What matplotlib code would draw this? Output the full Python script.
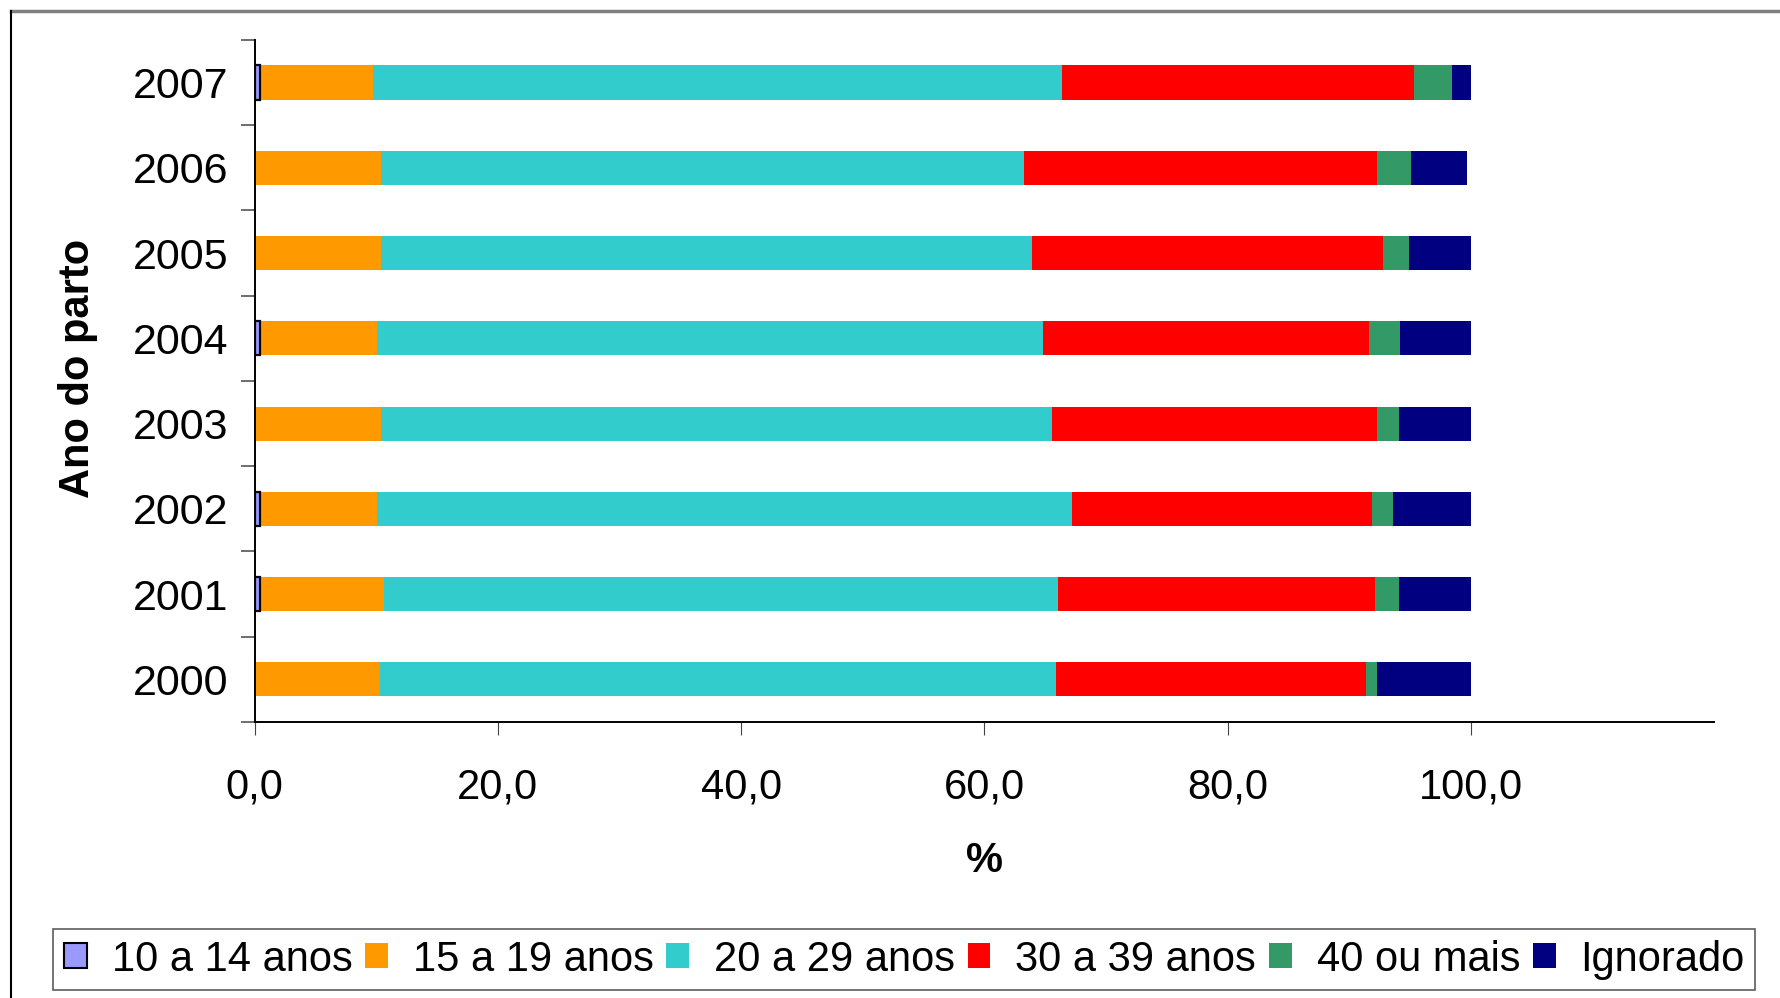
import matplotlib
matplotlib.use("Agg")
import matplotlib.pyplot as plt
import matplotlib.patches as mpatches
from matplotlib.lines import Line2D
import numpy as np

plt.rcParams['font.family'] = ['Liberation Sans', 'DejaVu Sans']

# data (% of births by mother's age group)
years = ['2000', '2001', '2002', '2003', '2004', '2005', '2006', '2007']
age_10_14 = [0.0, 0.45, 0.45, 0.0, 0.45, 0.0, 0.0, 0.45]
age_15_19 = [10.3, 10.2, 9.65, 10.4, 9.65, 10.4, 10.4, 9.3]
age_20_29 = [55.6, 55.4, 57.1, 55.2, 54.7, 53.5, 52.85, 56.6]
age_30_39 = [25.5, 26.05, 24.7, 26.7, 26.8, 28.9, 29.05, 29.0]
age_40_plus = [0.9, 2.0, 1.7, 1.8, 2.6, 2.1, 2.8, 3.1]
ignorado = [7.7, 5.9, 6.4, 5.9, 5.8, 5.1, 4.6, 1.6]

series = [
    ('10 a 14 anos', age_10_14, '#9999FF'),
    ('15 a 19 anos', age_15_19, '#FF9900'),
    ('20 a 29 anos', age_20_29, '#33CCCC'),
    ('30 a 39 anos', age_30_39, '#FF0000'),
    ('40 ou mais', age_40_plus, '#339966'),
    ('Ignorado', ignorado, '#000080'),
]

fig = plt.figure(figsize=(17.8, 9.98), dpi=100)
ax = fig.add_axes([0.143, 0.2766, 0.820, 0.6834])

y = np.arange(len(years))
left = np.zeros(len(years))
handles = []
for i, (name, vals, color) in enumerate(series):
    vals = np.array(vals)
    if i == 0:
        # only the first series has a black border (and only where > 0)
        ec = ['black' if v > 0 else 'none' for v in vals]
        ax.barh(y, vals, left=left, height=0.4, color=color,
                edgecolor=ec, linewidth=1.6, zorder=3)
        handles.append(mpatches.Patch(facecolor=color, edgecolor='black',
                                      linewidth=1.5, label=name))
    else:
        ax.barh(y, vals, left=left, height=0.4, color=color, linewidth=0)
        handles.append(mpatches.Patch(facecolor=color, label=name))
    left += vals

ax.set_xlim(0, 120)
ax.set_ylim(-0.5, len(years) - 0.5)

ax.set_xticks(np.arange(0, 101, 20))
ax.set_xticklabels(['%d,0' % v for v in range(0, 101, 20)])

ax.set_yticks(np.arange(-0.5, len(years), 1))
ax.set_yticklabels([])
ax.set_yticks(y, minor=True)
ax.set_yticklabels(years, minor=True)

ax.tick_params(axis='x', which='major', direction='out', length=9,
               width=0.8, color='#444444', labelsize=30, pad=24)
ax.tick_params(axis='y', which='major', direction='out', length=10,
               width=1.2, color='#555555')
ax.tick_params(axis='y', which='minor', length=0, labelsize=31, pad=19)

for s in ['top', 'right']:
    ax.spines[s].set_visible(False)
for s in ['left', 'bottom']:
    ax.spines[s].set_linewidth(1.4)
    ax.spines[s].set_color('black')

ax.set_xlabel('%', fontsize=30, fontweight='bold')
ax.xaxis.set_label_coords(0.5, -0.175)
ax.set_ylabel('Ano do parto', fontsize=30, fontweight='bold')
ax.yaxis.set_label_coords(-0.107, 0.5176)

leg = fig.legend(handles=handles, loc='center', ncol=6,
                 bbox_to_anchor=(0.508, 0.0385), fontsize=30,
                 frameon=True, fancybox=False, shadow=False,
                 handlelength=0.55, handleheight=0.55, handletextpad=0.6,
                 columnspacing=0.3, borderpad=0.25, borderaxespad=0)
leg.get_frame().set_edgecolor('#333333')
leg.get_frame().set_linewidth(1.2)

# outer chart frame (top and left visible)
fx = 11 / 1780
fy = 1 - 11 / 998
fig.add_artist(Line2D([fx, 1], [fy, fy], transform=fig.transFigure,
                      color='#808080', linewidth=2.5))
fig.add_artist(Line2D([fx, fx], [0, fy], transform=fig.transFigure,
                      color='black', linewidth=1.5))

fig.savefig('out.png', dpi=100)
